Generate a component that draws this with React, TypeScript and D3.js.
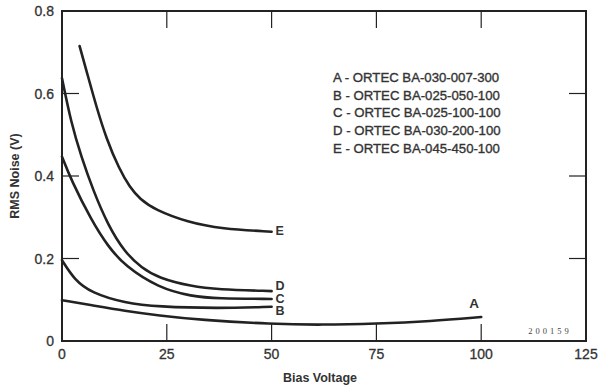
import React from "react";
import * as d3 from "d3";

type Pt = [number, number];

// curves: [bias voltage, rms noise]
const curveA: Pt[] = [[0, 0.099], [7, 0.087], [15, 0.073], [23, 0.062], [33, 0.051], [50, 0.041], [62, 0.039], [75, 0.042], [88, 0.048], [100, 0.058]];
const curveB: Pt[] = [[0, 0.196], [3, 0.148], [7, 0.117], [15, 0.092], [23, 0.083], [37, 0.079], [50, 0.083]];
const curveC: Pt[] = [[0, 0.447], [2.2, 0.39], [7, 0.293], [11, 0.229], [15, 0.182], [23, 0.129], [31, 0.108], [37, 0.103], [50, 0.102]];
const curveD: Pt[] = [[0, 0.637], [2.2, 0.528], [4.6, 0.447], [7.4, 0.366], [11, 0.28], [15, 0.215], [19, 0.177], [23, 0.153], [31, 0.132], [37, 0.125], [50, 0.121]];
const curveE: Pt[] = [[4.2, 0.715], [6, 0.649], [8.2, 0.568], [10.6, 0.49], [13.6, 0.418], [16.2, 0.372], [18.6, 0.344], [22.2, 0.318], [30, 0.288], [38, 0.272], [50, 0.265]];

const curveNames = ["A", "B", "C", "D", "E"];
const curves = [curveA, curveB, curveC, curveD, curveE];

const legendLines = [
  "A - ORTEC BA-030-007-300",
  "B - ORTEC BA-025-050-100",
  "C - ORTEC BA-025-100-100",
  "D - ORTEC BA-030-200-100",
  "E - ORTEC BA-045-450-100",
];

const xTicks = [0, 25, 50, 75, 100, 125];
const yTicks = [0, 0.2, 0.4, 0.6, 0.8];

const W = 602;
const H = 390;
const margin = { top: 11, right: 16, bottom: 49, left: 62 };
const ink = "#222";
const textInk = "#333";
const font = "'Liberation Sans', Arial, Helvetica, sans-serif";

export default function App() {
  const x = d3.scaleLinear().domain([0, 125]).range([margin.left, W - margin.right]);
  const y = d3.scaleLinear().domain([0, 0.8]).range([H - margin.bottom, margin.top]);
  const line = d3
    .line<Pt>()
    .x(d => x(d[0]))
    .y(d => y(d[1]))
    .curve(d3.curveBasis);

  const x0 = x(0), x1 = x(125), y0 = y(0), y1 = y(0.8);
  const tickLen = 17;
  // fixed baselines so the B/C/D letters stack like in the figure
  const labelY: Record<string, number> = { B: 315, C: 302.5, D: 290, E: 235 };

  return (
    <svg
      width={W}
      height={H}
      style={{ position: "absolute", left: 0, top: 0, background: "#fff" }}
      fontFamily={font}
    >
      <rect width={W} height={H} fill="#fff" />

      {/* frame */}
      <rect x={x0} y={y1} width={x1 - x0} height={y0 - y1} fill="none" stroke={ink} strokeWidth={2} />

      {/* inward ticks on all four sides */}
      {xTicks.slice(1, -1).map(t => (
        <g key={"xt" + t} stroke={ink} strokeWidth={1.2}>
          <line x1={x(t)} x2={x(t)} y1={y0} y2={y0 - tickLen} />
          <line x1={x(t)} x2={x(t)} y1={y1} y2={y1 + tickLen} />
        </g>
      ))}
      {yTicks.slice(1, -1).map(t => (
        <g key={"yt" + t} stroke={ink} strokeWidth={1.2}>
          <line x1={x0} x2={x0 + tickLen} y1={y(t)} y2={y(t)} />
          <line x1={x1} x2={x1 - tickLen} y1={y(t)} y2={y(t)} />
        </g>
      ))}

      {/* tick labels */}
      <g fontSize={14} fill={textInk} stroke={textInk} strokeWidth={0.3}>
        {xTicks.map(t => (
          <text key={"xl" + t} x={x(t)} y={y0 + 18} textAnchor="middle">
            {t}
          </text>
        ))}
        {yTicks.map(t => (
          <text key={"yl" + t} x={x0 - 8} y={y(t) + 5} textAnchor="end">
            {t === 0 ? "0" : t.toFixed(1)}
          </text>
        ))}
      </g>

      {/* axis titles */}
      <text x={320} y={382} textAnchor="middle" fontSize={12.5} fontWeight={600} fill={textInk}>
        Bias Voltage
      </text>
      <text
        transform={`translate(19,${(y0 + y1) / 2}) rotate(-90)`}
        textAnchor="middle"
        fontSize={12.5}
        fontWeight={600}
        fill={textInk}
      >
        RMS Noise (V)
      </text>

      {/* curves */}
      {curves.map((c, i) => (
        <path key={curveNames[i]} d={line(c) ?? ""} fill="none" stroke={ink} strokeWidth={2.6} strokeLinecap="round" />
      ))}

      {/* curve labels */}
      {curves.map((c, i) => {
        const name = curveNames[i];
        const last = c[c.length - 1];
        const isA = name === "A";
        return (
          <text
            key={"cl" + name}
            x={isA ? x(last[0]) - 7 : x(last[0]) + 4}
            y={isA ? y(last[1]) - 9 : labelY[name]}
            textAnchor={isA ? "middle" : "start"}
            fontSize={isA ? 13.5 : 12.5}
            fontWeight={700}
            fill={textInk}
          >
            {name}
          </text>
        );
      })}

      {/* legend */}
      <g fontSize={13.2} fill={textInk} stroke={textInk} strokeWidth={0.35}>
        {legendLines.map((s, i) => (
          <text key={s} x={333} y={82 + i * 17.7}>
            {s}
          </text>
        ))}
      </g>

      <text x={550} y={334} textAnchor="middle" fontSize={8.5} letterSpacing={3} fontFamily="'Liberation Serif', serif" fill="#444">
        200159
      </text>
    </svg>
  );
}
